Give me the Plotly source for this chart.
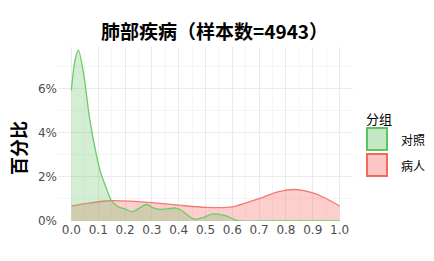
import plotly.graph_objects as go

# Data (percent units)
ctrl_x = [0, 0.012, 0.026, 0.048, 0.067, 0.092, 0.11, 0.13, 0.148, 0.173, 0.2, 0.226, 0.255, 0.279, 0.305, 0.328, 0.36, 0.384, 0.409, 0.435, 0.459, 0.49, 0.527, 0.577, 0.61, 0.627, 0.7, 0.8, 0.9, 1.0]
ctrl_y = [5.93, 7.2, 7.77, 6.5, 4.72, 3.07, 2.16, 1.5, 0.95, 0.65, 0.55, 0.42, 0.6, 0.75, 0.6, 0.53, 0.55, 0.59, 0.5, 0.25, 0.08, 0.15, 0.32, 0.23, 0.05, 0.0, 0.0, 0.0, 0.0, 0.0]
case_x = [0, 0.07, 0.14, 0.22, 0.3, 0.4, 0.5, 0.6, 0.7, 0.77, 0.83, 0.9, 0.95, 1.0]
case_y = [0.68, 0.82, 0.92, 0.90, 0.83, 0.72, 0.62, 0.64, 1.02, 1.32, 1.43, 1.28, 1.02, 0.68]
xticks = [0.0, 0.1, 0.2, 0.3, 0.4, 0.5, 0.6, 0.7, 0.8, 0.9, 1.0]
yticks = [0, 2, 4, 6]
groups = ["对照", "病人"]

W, H = 434, 261
L, R, T, B = 58, 353, 47, 221

FONT = "Noto Sans CJK SC"

fig = go.Figure()
fig.add_trace(go.Scatter(x=case_x, y=case_y, mode="lines", line=dict(color="#F27A72", width=1.3, shape="spline", smoothing=0.8),
                         fill="tozeroy", fillcolor="rgba(248,118,109,0.35)", name=groups[1], showlegend=False))
fig.add_trace(go.Scatter(x=ctrl_x, y=ctrl_y, mode="lines", line=dict(color="#6ACB6A", width=1.3, shape="spline", smoothing=0.8),
                         fill="tozeroy", fillcolor="rgba(110,200,110,0.30)", name=groups[0], showlegend=False))

def px(x):
    return (x - L) / (R - L)
def py(y):
    return (B - y) / (B - T)

shapes = []
annotations = []
# legend
annotations.append(dict(text="分组", x=px(364), y=py(118), xref="paper", yref="paper", xanchor="left", yanchor="middle",
                        showarrow=False, font=dict(family=FONT, size=13, color="#000")))
box = [(128, 150, "#C4E7C4", "#5DC55D"), (154, 176, "#FBC6C4", "#F06A62")]
for (y0, y1, fc, lc), g in zip(box, groups):
    shapes.append(dict(type="rect", xref="paper", yref="paper", x0=px(367), x1=px(387), y0=py(y1), y1=py(y0),
                       fillcolor=fc, line=dict(color=lc, width=2)))
    annotations.append(dict(text=g, x=px(399), y=py((y0 + y1) / 2), xref="paper", yref="paper", xanchor="left", yanchor="middle",
                            showarrow=False, font=dict(family=FONT, size=12, color="#000")))
# y title
annotations.append(dict(text="<b>百分比</b>", x=px(18), y=py(148), xref="paper", yref="paper", textangle=-90,
                        xanchor="center", yanchor="middle",
                        showarrow=False, font=dict(family=FONT, size=18, color="#000")))
# title
annotations.append(dict(text="<b>肺部疾病（样本数=4943）</b>", x=px(214), y=py(31), xref="paper", yref="paper",
                        xanchor="center", yanchor="middle",
                        showarrow=False, font=dict(family=FONT, size=19, color="#000")))

fig.update_layout(
    width=W, height=H,
    margin=dict(l=L, r=W - R, t=T, b=H - B, pad=0),
    paper_bgcolor="white", plot_bgcolor="white",
    shapes=shapes, annotations=annotations,
    showlegend=False,
    xaxis=dict(range=[-0.05, 1.05], tickvals=xticks, ticktext=[f"{v:.1f}" for v in xticks],
               showgrid=True, gridcolor="#EBEBEB", gridwidth=0.8,
               minor=dict(dtick=0.05, tick0=0.05, showgrid=True, gridcolor="#F5F5F5", gridwidth=0.6),
               zeroline=False, showline=False, ticks="",
               tickfont=dict(family="DejaVu Sans", size=12, color="#4D4D4D")),
    yaxis=dict(range=[0, 7.9], tickvals=yticks, ticktext=[f"{v}%" for v in yticks],
               showgrid=True, gridcolor="#EBEBEB", gridwidth=0.8,
               minor=dict(dtick=1, tick0=1, showgrid=True, gridcolor="#F5F5F5", gridwidth=0.6),
               zeroline=False, showline=False, ticks="",
               tickfont=dict(family="DejaVu Sans", size=12, color="#4D4D4D")),
)
fig.write_html("out.html")
